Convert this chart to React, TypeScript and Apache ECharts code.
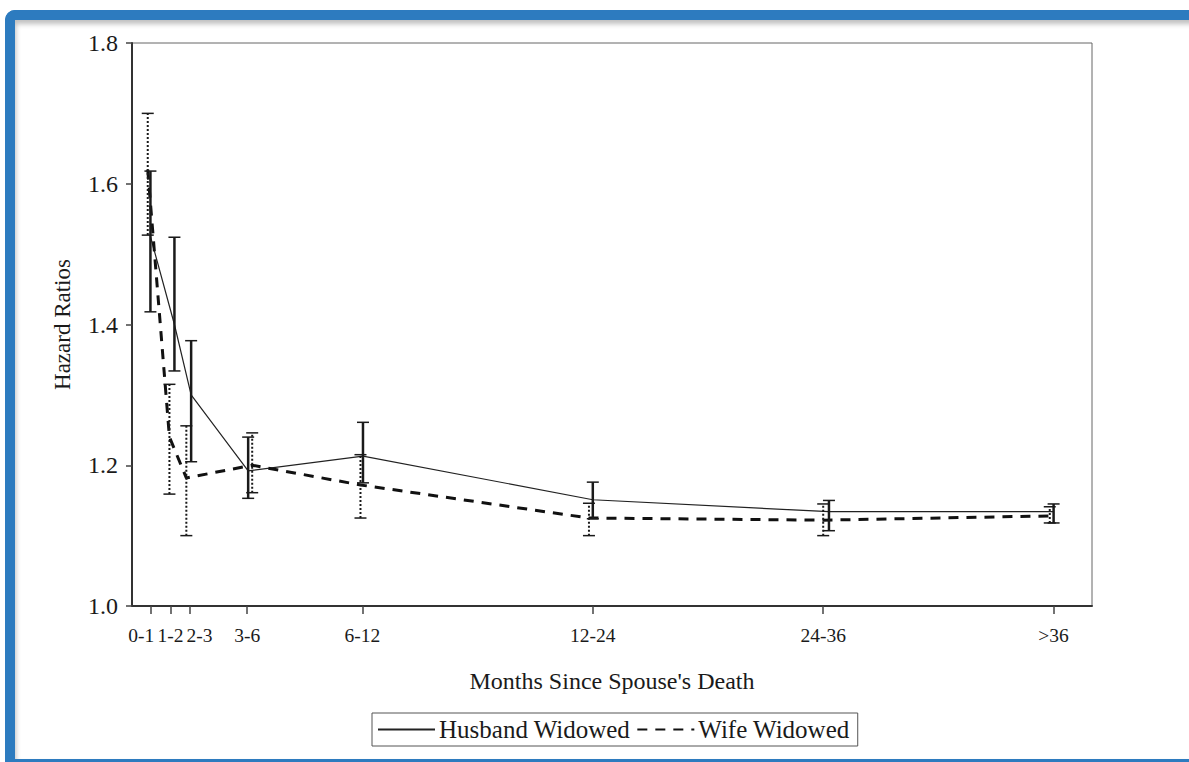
import React, { useEffect, useRef } from "react";
import * as echarts from "echarts";

// Category labels and the month each one is plotted at (upper end of the interval)
const categories = ["0-1", "1-2", "2-3", "3-6", "6-12", "12-24", "24-36", ">36"];
const categoryMonths = [1, 2, 3, 6, 12, 24, 36, 48];

// Husband widowed (solid line, solid error bars)
const husbandX = [0.96, 2.21, 3.08, 6.05, 12.03, 24.0, 36.3, 48.0];
const husbandHR = [1.525, 1.4, 1.3, 1.192, 1.213, 1.151, 1.134, 1.134];
const husbandLow = [1.418, 1.334, 1.205, 1.153, 1.175, 1.124, 1.107, 1.118];
const husbandHigh = [1.618, 1.524, 1.377, 1.24, 1.261, 1.176, 1.15, 1.145];

// Wife widowed (dashed line, dotted error bars)
const wifeX = [0.82, 1.95, 2.83, 6.26, 11.9, 23.8, 36.0, 47.8];
const wifeHR = [1.62, 1.24, 1.182, 1.2, 1.172, 1.125, 1.122, 1.128];
const wifeLow = [1.527, 1.159, 1.1, 1.161, 1.125, 1.1, 1.1, 1.118];
const wifeHigh = [1.7, 1.315, 1.256, 1.246, 1.215, 1.146, 1.145, 1.141];

const yTicks = [1.0, 1.2, 1.4, 1.6, 1.8];

const FONT = "'Liberation Serif', 'Times New Roman', serif";
const INK = "#1a1a1a";

function errorRenderer(dotted: boolean, capHalf: number, width: number) {
  return (params: any, api: any) => {
    const x = api.value(0);
    const lo = api.value(1);
    const hi = api.value(2);
    const pLo = api.coord([x, lo]);
    const pHi = api.coord([x, hi]);
    const barStyle: any = { stroke: INK, lineWidth: width, lineDash: dotted ? [2, 2] : null };
    const capStyle: any = { stroke: INK, lineWidth: 1.5 };
    return {
      type: "group",
      children: [
        { type: "line", shape: { x1: pLo[0], y1: pLo[1], x2: pHi[0], y2: pHi[1] }, style: barStyle },
        { type: "line", shape: { x1: pHi[0] - capHalf, y1: pHi[1], x2: pHi[0] + capHalf, y2: pHi[1] }, style: capStyle },
        { type: "line", shape: { x1: pLo[0] - capHalf, y1: pLo[1], x2: pLo[0] + capHalf, y2: pLo[1] }, style: capStyle },
      ],
    };
  };
}

export default function App() {
  const ref = useRef<HTMLDivElement>(null);

  useEffect(() => {
    if (!ref.current) return;
    const chart = echarts.init(ref.current, null, { renderer: "svg" });

    const husbandLine = husbandX.map((x, i) => [x, husbandHR[i]]);
    const wifeLine = wifeX.map((x, i) => [x, wifeHR[i]]);
    const husbandErr = husbandX.map((x, i) => [x, husbandLow[i], husbandHigh[i]]);
    const wifeErr = wifeX.map((x, i) => [x, wifeLow[i], wifeHigh[i]]);

    const labelFor = (v: number) => {
      const i = categoryMonths.indexOf(v);
      if (i < 0) return "";
      const t = categories[i];
      if (i === 0) return "{l|" + t + "}";
      if (i === 2) return "{r|" + t + "}";
      if (i === 3) return "{u|" + t + "}";
      return "{n|" + t + "}";
    };

    const lblBase = { fontFamily: FONT, fontSize: 19.5, color: INK };

    chart.setOption({
      animation: false,
      backgroundColor: "transparent",
      grid: {
        left: 132,
        top: 43,
        right: 97,
        bottom: 156,
        show: true,
        borderColor: "#666",
        borderWidth: 1,
        containLabel: false,
      },
      legend: {
        data: ["Husband Widowed", "Wife Widowed"],
        left: 372,
        top: 713,
        orient: "horizontal",
        borderColor: "#555",
        borderWidth: 1,
        padding: [4, 8, 4, 5],
        itemGap: 6,
        itemWidth: 57,
        itemHeight: 14,
        itemStyle: { opacity: 0 },
        textStyle: { fontFamily: FONT, fontSize: 25, color: INK, padding: [0, 0, 0, -1] },
      },
      xAxis: {
        type: "value",
        min: 0,
        max: 50,
        name: "Months Since Spouse's Death",
        nameLocation: "middle",
        nameGap: 63,
        nameTextStyle: { fontFamily: FONT, fontSize: 24, color: INK },
        axisLine: { show: true, onZero: false, lineStyle: { color: "#333", width: 2 } },
        axisTick: {
          show: true,
          customValues: categoryMonths,
          length: 8,
          inside: false,
          lineStyle: { color: "#444", width: 1.5 },
        },
        axisLabel: {
          customValues: categoryMonths,
          margin: 19,
          formatter: labelFor,
          rich: {
            n: { ...lblBase },
            l: { ...lblBase, padding: [0, 20, 0, 0] },
            r: { ...lblBase, padding: [0, 0, 0, 20] },
            u: { ...lblBase, padding: [0, 0, 8, 0] },
          },
        },
        splitLine: { show: false },
      },
      yAxis: {
        type: "value",
        min: 1.0,
        max: 1.8,
        interval: 0.2,
        name: "Hazard Ratios",
        nameLocation: "middle",
        nameRotate: 90,
        nameGap: 58,
        nameTextStyle: { fontFamily: FONT, fontSize: 23, color: INK },
        axisLine: { show: true, onZero: false, lineStyle: { color: "#333", width: 2 } },
        axisTick: { show: true, length: 6, lineStyle: { color: "#444", width: 1.5 } },
        axisLabel: {
          margin: 14,
          fontFamily: FONT,
          fontSize: 24,
          color: INK,
          formatter: (v: number) => {
            const m = yTicks.find((t) => Math.abs(t - v) < 1e-6);
            return m === undefined ? "" : m.toFixed(1);
          },
        },
        splitLine: { show: false },
      },
      series: [
        {
          name: "Husband Widowed",
          type: "line",
          data: husbandLine,
          symbol: "none",
          lineStyle: { color: "#222", width: 1.2, type: "solid" },
          itemStyle: { color: "#222" },
          z: 3,
        },
        {
          name: "Wife Widowed",
          type: "line",
          data: wifeLine,
          symbol: "none",
          lineStyle: { color: "#111", width: 3, type: [10, 8] },
          itemStyle: { color: "#111" },
          z: 3,
        },
        {
          name: "husband-ci",
          type: "custom",
          renderItem: errorRenderer(false, 6, 2.5),
          data: husbandErr,
          encode: { x: 0, y: [1, 2] },
          z: 4,
        },
        {
          name: "wife-ci",
          type: "custom",
          renderItem: errorRenderer(true, 6, 2),
          data: wifeErr,
          encode: { x: 0, y: [1, 2] },
          z: 4,
        },
      ],
    });

    return () => chart.dispose();
  }, []);

  return (
    <div style={{ position: "fixed", left: 0, top: 0, width: 1189, height: 762, overflow: "hidden", background: "#fff" }}>
      <div
        style={{
          position: "absolute",
          left: 5,
          top: 10,
          width: 1220,
          height: 752,
          boxSizing: "border-box",
          borderTop: "10px solid #2d7bbf",
          borderLeft: "10px solid #2d7bbf",
          borderBottom: "3px solid #2d7bbf",
          borderTopLeftRadius: 10,
          boxShadow: "inset 1px 4px 5px rgba(0,0,0,0.25)",
        }}
      />
      <div ref={ref} style={{ position: "absolute", left: 0, top: 0, width: 1189, height: 762 }} />
    </div>
  );
}
